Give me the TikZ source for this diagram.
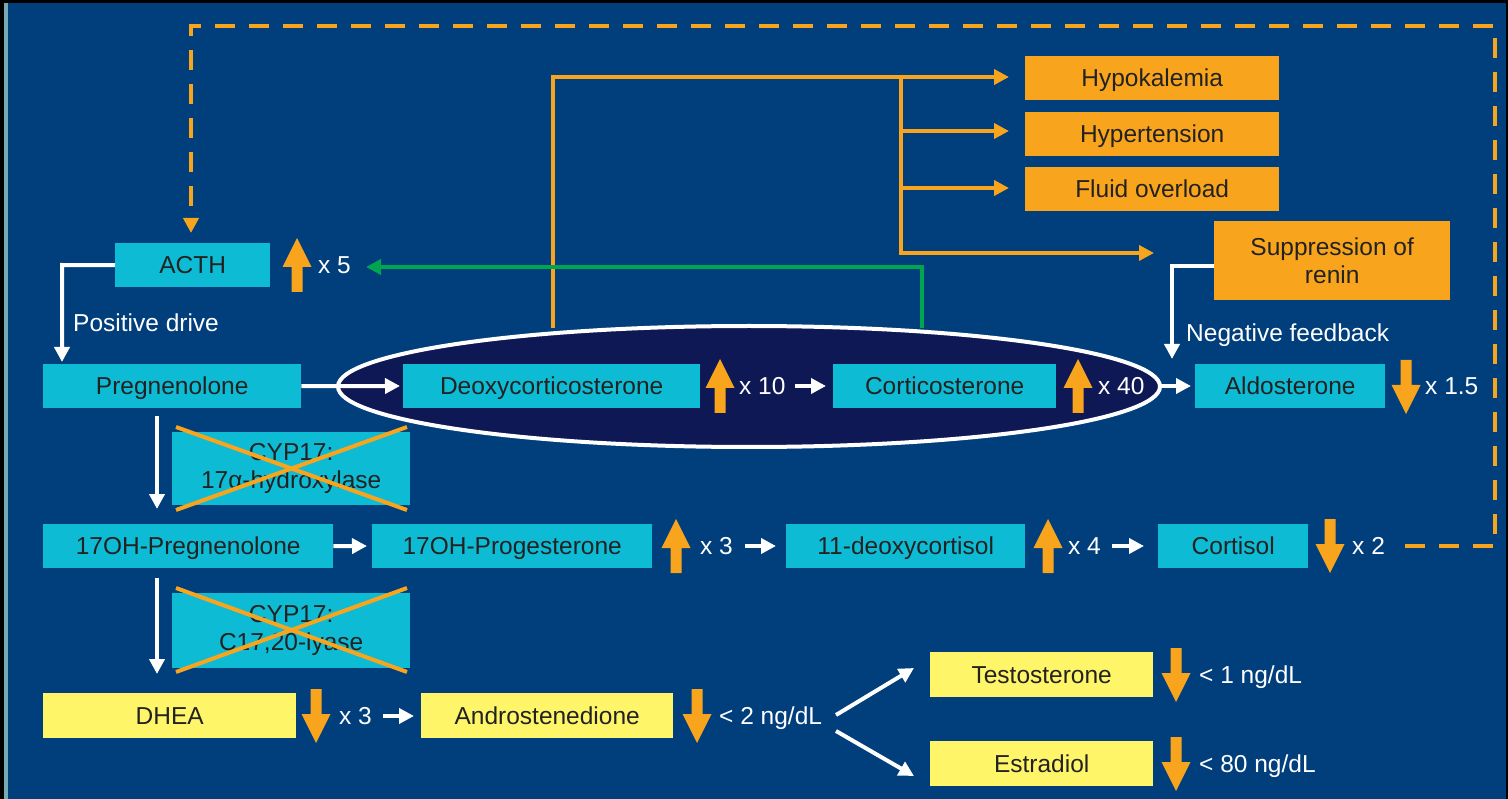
\documentclass[tikz,border=0pt]{standalone}
\usepackage{fontspec}
\setmainfont{Liberation Sans}
\usetikzlibrary{arrows.meta,shapes.geometric}
\definecolor{bgblue}{RGB}{0,62,124}
\definecolor{navy}{RGB}{14,24,84}
\definecolor{cyanbox}{RGB}{14,187,212}
\definecolor{orng}{RGB}{248,165,29}
\definecolor{yel}{RGB}{255,245,105}
\definecolor{grn}{RGB}{0,166,79}
\definecolor{txt}{RGB}{34,34,34}
\definecolor{edge}{RGB}{120,170,180}
\tikzset{
  mbox/.style={fill=cyanbox, text=txt, inner sep=0pt, anchor=north west, align=center, font=\fontsize{24.5}{28}\selectfont},
  box/.style={mbox, text height=19pt, text depth=1.5pt},
  obox/.style={box, fill=orng},
  ybox/.style={box, fill=yel},
  lbl/.style={text=white, inner sep=0pt, anchor=west, text height=19pt, text depth=1.5pt, font=\fontsize{24.5}{28}\selectfont},
  warr/.style={draw=white, line width=4pt, -{Triangle[length=15pt,width=15pt]}},
  oarr/.style={draw=orng, line width=4pt, -{Triangle[length=15pt,width=15pt]}},
  oline/.style={draw=orng, line width=4pt},
  garr/.style={draw=grn, line width=4pt, -{Triangle[length=15pt,width=15pt]}},
  cross/.style={draw=orng, line width=4pt},
  uparr/.pic={\fill[orng] (0,-27) -- (14.5,2) -- (5.5,2) -- (5.5,27) -- (-5.5,27) -- (-5.5,2) -- (-14.5,2) -- cycle;},
  dnarr/.pic={\fill[orng] (0,27) -- (14.5,-2) -- (5.5,-2) -- (5.5,-27) -- (-5.5,-27) -- (-5.5,-2) -- (-14.5,-2) -- cycle;}
}
\begin{document}
\begin{tikzpicture}[x=1pt,y=-1pt]
\useasboundingbox (0,0) rectangle (1508,799);
\fill[black] (0,0) rectangle (1508,799);
\fill[edge] (4,3) rectangle (8,799);
\fill[bgblue] (8,3) rectangle (1506,799);

% dashed feedback loop
\coordinate (d1) at (1405,546);
\coordinate (d2) at (1495,546);
\coordinate (d3) at (1495,26);
\coordinate (d4) at (191,26);
\draw[orng, line width=4pt, dash pattern=on 20pt off 14pt, -{Triangle[length=15pt,width=15pt]}, shorten >=10pt]
  (d1) -- (d2) -- (d3) -- (d4) -- (191,243);

% ellipse
\node[draw=white, line width=4pt, fill=navy, ellipse, minimum width=822pt, minimum height=121pt, inner sep=0pt] (ell) at (749,386.5) {};

% row 1
\node[box, minimum width=155pt, minimum height=44pt] (acth) at (115,243) {ACTH};
\node[box, minimum width=258pt, minimum height=44pt] (preg) at (43,364) {Pregnenolone};
\node[box, minimum width=297pt, minimum height=44pt] (doc) at (403,364) {Deoxycorticosterone};
\node[box, minimum width=223pt, minimum height=44pt] (cort) at (833,364) {Corticosterone};
\node[box, minimum width=190pt, minimum height=44pt] (aldo) at (1195,364) {Aldosterone};

% orange boxes
\node[obox, minimum width=254pt, minimum height=44pt] (hypok) at (1025,56) {Hypokalemia};
\node[obox, minimum width=254pt, minimum height=44pt] (hypert) at (1025,112) {Hypertension};
\node[obox, minimum width=254pt, minimum height=44pt] (fluid) at (1025,167) {Fluid overload};
\node[mbox, fill=orng, minimum width=236pt, minimum height=79pt] (renin) at (1214,221) {Suppression of\\renin};

% CYP17 boxes
\node[mbox, minimum width=238pt, minimum height=73pt] (cyp1) at (172,432) {CYP17:\\17α-hydroxylase};
\node[mbox, minimum width=238pt, minimum height=75pt] (cyp2) at (172,593) {CYP17:\\C17,20-lyase};
\draw[cross] (176,427) -- (407,510);
\draw[cross] (176,510) -- (407,427);
\draw[cross] (176,588) -- (407,672);
\draw[cross] (176,672) -- (407,588);

% row 2
\node[box, minimum width=290pt, minimum height=44pt] (ohpreg) at (43,524) {17OH-Pregnenolone};
\node[box, minimum width=280pt, minimum height=44pt] (ohprog) at (372,524) {17OH-Progesterone};
\node[box, minimum width=239pt, minimum height=44pt] (deoxyc) at (786,524) {11-deoxycortisol};
\node[box, minimum width=150pt, minimum height=44pt] (cortisol) at (1158,524) {Cortisol};

% row 3
\node[ybox, minimum width=253pt, minimum height=45pt] (dhea) at (43,693) {DHEA};
\node[ybox, minimum width=252pt, minimum height=45pt] (andro) at (421,693) {Androstenedione};
\node[ybox, minimum width=223pt, minimum height=45pt] (testo) at (930,652) {Testosterone};
\node[ybox, minimum width=223pt, minimum height=45pt] (estra) at (930,741) {Estradiol};

% fat arrows and factors
\pic at (297,265) {uparr};
\node[lbl] (f1) at (318,265) {x 5};
\pic at (720,386) {uparr};
\node[lbl] (f2) at (739,386) {x 10};
\pic at (1078,386) {uparr};
\node[lbl] (f3) at (1098,386) {x 40};
\pic at (1406,387) {dnarr};
\node[lbl] (f4) at (1425,386) {x 1.5};
\pic at (676,546) {uparr};
\node[lbl] (f5) at (700,546) {x 3};
\pic at (1048,546) {uparr};
\node[lbl] (f6) at (1068,546) {x 4};
\pic at (1330,546) {dnarr};
\node[lbl] (f7) at (1352,546) {x 2};
\pic at (316,716) {dnarr};
\node[lbl] (f8) at (339,716) {x 3};
\pic at (697,716) {dnarr};
\node[lbl] (f9) at (719,716) {< 2 ng/dL};
\pic at (1176,675) {dnarr};
\node[lbl] (f10) at (1199,675) {< 1 ng/dL};
\pic at (1176,764) {dnarr};
\node[lbl] (f11) at (1199,764) {< 80 ng/dL};

% labels
\node[lbl] (pd) at (73,323) {Positive drive};
\node[lbl] (nf) at (1186,333) {Negative feedback};

% white arrows
\draw[warr] (acth.west) -- (62,265) -- (62,362);
\draw[warr] (preg.east) -- (400,386);
\draw[warr] (795,386) -- (826,386);
\draw[warr] (1160,386) -- (1191,386);
\draw[warr] (renin.west |- 0,266) -- (1172,266) -- (1172,359);
\draw[warr] (157,416) -- (157,509);
\draw[warr] (ohpreg.east) -- (367,546);
\draw[warr] (745,546) -- (776,546);
\draw[warr] (1112,546) -- (1144,546);
\draw[warr] (157,578) -- (157,674);
\draw[warr] (383,716) -- (414,716);
\draw[warr] (836,715) -- (914,668);
\draw[warr] (836,731) -- (914,776);

% orange connectors
\coordinate (otop) at (553,77);
\coordinate (obr) at (901,77);
\draw[oline] (553,328) -- (otop) -- (obr);
\draw[oarr] (obr) -- (1009,77);
\draw[oline] (obr) -- (901,253);
\draw[oarr] (901,131) -- (1009,131);
\draw[oarr] (901,188) -- (1009,188);
\draw[oarr] (899,253) -- (1154,253);

% green connector
\draw[garr] (922,328) -- (922,267) -- (366,267);
\end{tikzpicture}
\end{document}
